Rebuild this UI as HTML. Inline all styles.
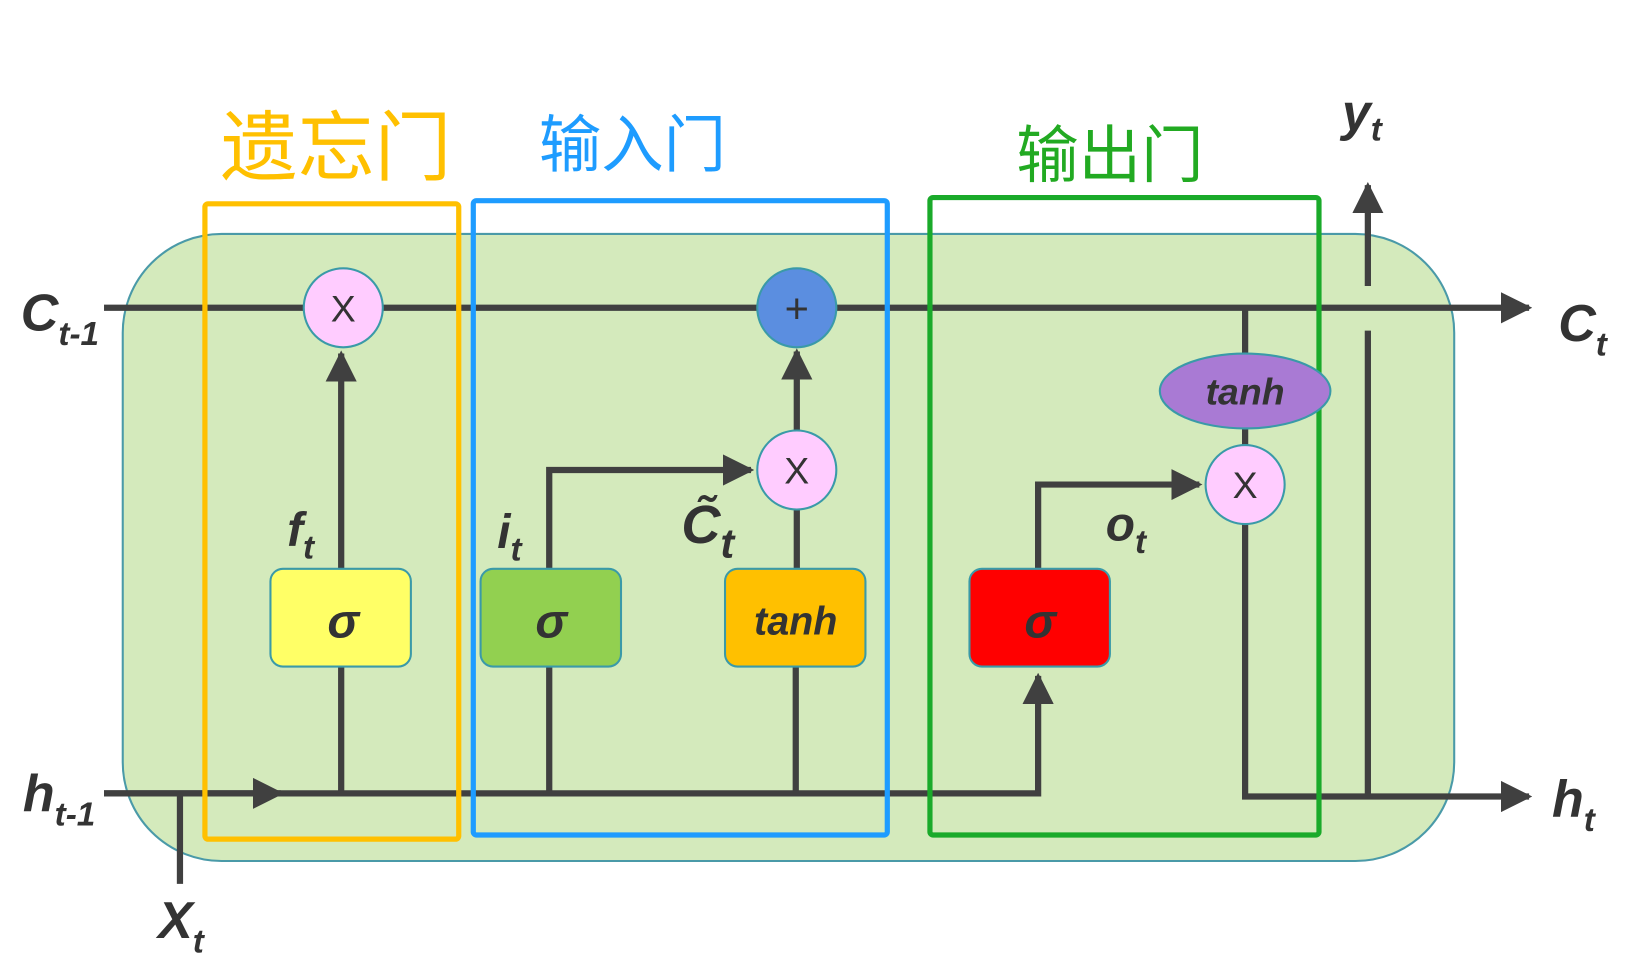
<!DOCTYPE html>
<html><head><meta charset="utf-8"><style>
html,body{margin:0;padding:0;background:#fff;width:1630px;height:966px;overflow:hidden}
svg{display:block}
text{font-family:"Liberation Sans","Noto Sans CJK SC",sans-serif}
.lab{font-weight:bold;font-style:italic;fill:#333}
</style></head><body>
<svg width="1630" height="966" viewBox="0 0 1567 929" preserveAspectRatio="none">
<defs>
<marker id="a" viewBox="0 0 10 10" refX="9" refY="5" markerWidth="5" markerHeight="5" orient="auto" markerUnits="strokeWidth"><path d="M0,0 L10,5 L0,10 z" fill="#404040"/></marker>
</defs>
<rect x="118" y="225" width="1280" height="603" rx="95" fill="#d4eabc" stroke="#4a9aa8" stroke-width="2"/>
<g stroke="#404040" stroke-width="6" fill="none">
<line x1="100" y1="296" x2="1470" y2="296" marker-end="url(#a)"/>
<polyline points="100,763 998,763 998,650" marker-end="url(#a)"/>
<line x1="100" y1="763" x2="270" y2="763" marker-end="url(#a)"/>
<line x1="328" y1="763" x2="328" y2="340" marker-end="url(#a)"/>
<line x1="528" y1="763" x2="528" y2="600"/>
<polyline points="528,547 528,452 722,452" marker-end="url(#a)"/>
<line x1="765" y1="763" x2="765" y2="600"/>
<line x1="766" y1="547" x2="766" y2="490"/>
<line x1="766" y1="414" x2="766" y2="338" marker-end="url(#a)"/>
<polyline points="998,547 998,466 1153,466" marker-end="url(#a)"/>
<line x1="1197" y1="296" x2="1197" y2="345"/>
<line x1="1197" y1="410" x2="1197" y2="430"/>
<polyline points="1197,500 1197,766 1470,766" marker-end="url(#a)"/>
<line x1="1315" y1="766" x2="1315" y2="318"/>
<line x1="1315" y1="275" x2="1315" y2="178" marker-end="url(#a)"/>
<line x1="173" y1="765" x2="173" y2="850"/>
</g>
<rect x="197" y="196" width="244" height="611" fill="none" stroke="#ffc000" stroke-width="5" rx="3"/>
<rect x="455" y="193" width="398" height="610" fill="none" stroke="#1e9cff" stroke-width="5" rx="3"/>
<rect x="894" y="190" width="374" height="613" fill="none" stroke="#1aaa2a" stroke-width="5" rx="3"/>
<g stroke="#3a9aa8" stroke-width="2">
<circle cx="330" cy="296" r="38" fill="#ffccff"/>
<circle cx="766" cy="296" r="38" fill="#5b8ee0"/>
<circle cx="766" cy="452" r="38" fill="#ffccff"/>
<circle cx="1197" cy="466" r="38" fill="#ffccff"/>
<ellipse cx="1197" cy="376" rx="82" ry="36" fill="#a97ad4"/>
<rect x="260" y="547" width="135" height="94" rx="12" fill="#ffff66"/>
<rect x="462" y="547" width="135" height="94" rx="12" fill="#92d050"/>
<rect x="697" y="547" width="135" height="94" rx="12" fill="#ffc000"/>
<rect x="932" y="547" width="135" height="94" rx="12" fill="#ff0000"/>
</g>
<g font-size="36" fill="#333" text-anchor="middle">
<text x="330" y="309">X</text><text x="766" y="310" font-size="40">+</text>
<text x="766" y="465">X</text><text x="1197" y="479">X</text>
</g>
<g class="lab" text-anchor="middle">
<text x="330" y="613" font-size="46">σ</text>
<text x="530" y="613" font-size="46">σ</text>
<text x="765" y="610" font-size="38">tanh</text>
<text x="1000" y="613" font-size="46">σ</text>
<text x="1197" y="389" font-size="36">tanh</text>
</g>
<g class="lab" font-size="50">
<text x="20" y="318">C<tspan font-size="32" dy="14">t-1</tspan></text>
<text x="1498" y="328">C<tspan font-size="32" dy="14">t</tspan></text>
<text x="22" y="780">h<tspan font-size="32" dy="14">t-1</tspan></text>
<text x="1492" y="785">h<tspan font-size="32" dy="14">t</tspan></text>
<text x="152" y="902">X<tspan font-size="32" dy="14">t</tspan></text>
<text x="1290" y="125">y<tspan font-size="32" dy="10">t</tspan></text>
<text x="276" y="525" font-size="46">f<tspan font-size="32" dy="12">t</tspan></text>
<text x="478" y="527" font-size="46">i<tspan font-size="32" dy="12">t</tspan></text>
<text x="655" y="522" font-size="52">C̃<tspan font-size="40" dy="14">t</tspan></text>
<text x="1063" y="520" font-size="46">o<tspan font-size="32" dy="12">t</tspan></text>
</g>
<text x="212" y="168" font-size="74" fill="#ffc000">遗忘门</text>
<text x="518" y="160" font-size="60" fill="#1e9cff">输入门</text>
<text x="977" y="170" font-size="60" fill="#22aa22">输出门</text>
</svg>
</body></html>
